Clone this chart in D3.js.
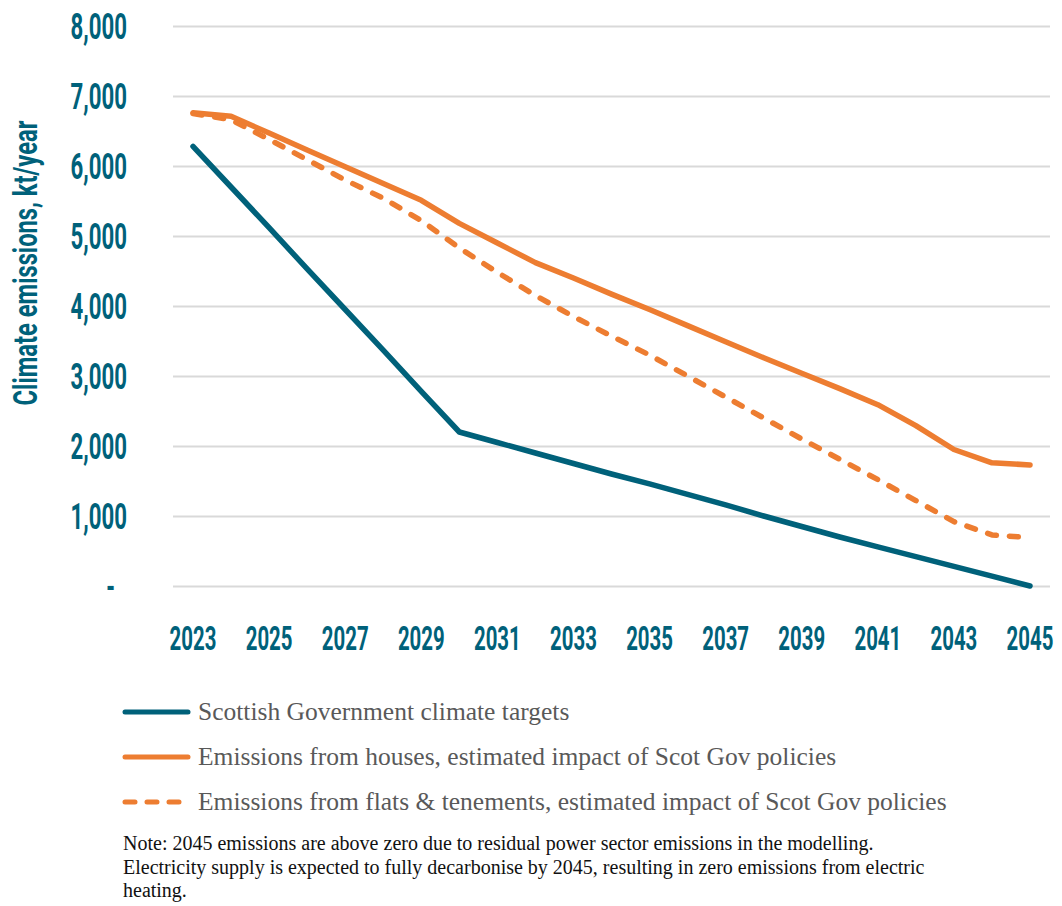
<!DOCTYPE html>
<html>
<head>
<meta charset="utf-8">
<script src="https://cdn.jsdelivr.net/npm/d3@7"></script>
<style>
  body { margin: 0; background: #fff; }
  .tick line { stroke: #d9d9d9; stroke-width: 2; }
  .domain { display: none; }
</style>
</head>
<body>
<svg id="chart" width="1062" height="906"></svg>
<script>
// years on the x axis
const years = d3.range(2023, 2046);
const xTickYears = [2023, 2025, 2027, 2029, 2031, 2033, 2035, 2037, 2039, 2041, 2043, 2045];
const yTicks = [0, 1000, 2000, 3000, 4000, 5000, 6000, 7000, 8000];

// kt/year
const targets = [6280, 5700, 5120, 4530, 3950, 3370, 2780, 2200, 2050, 1900, 1750, 1600,
  1460, 1310, 1160, 1000, 850, 700, 560, 420, 280, 140, 0];
const houses = [6760, 6710, 6470, 6230, 5990, 5750, 5510, 5180, 4900, 4620, 4400, 4170,
  3950, 3720, 3490, 3260, 3040, 2820, 2590, 2290, 1950, 1760, 1730];
const flats = [6750, 6660, 6380, 6090, 5800, 5540, 5220, 4830, 4480, 4150, 3850, 3570,
  3300, 3000, 2700, 2400, 2100, 1810, 1520, 1220, 920, 730, 690];

const legendLabels = [
  'Scottish Government climate targets',
  'Emissions from houses, estimated impact of Scot Gov policies',
  'Emissions from flats & tenements, estimated impact of Scot Gov policies'
];
const noteLines = [
  'Note: 2045 emissions are above zero due to residual power sector emissions in the modelling.',
  'Electricity supply is expected to fully decarbonise by 2045, resulting in zero emissions from electric',
  'heating.'
];

const teal = '#00617a';
const orange = '#ed7d31';
const condensed = 'Roboto, "DejaVu Sans", sans-serif';
const serif = '"Liberation Serif", "DejaVu Serif", serif';

const series = [
  {values: targets, color: teal, dash: null},
  {values: houses, color: orange, dash: null},
  {values: flats, color: orange, dash: '9,13'}
];

const svg = d3.select('#chart');
const gridL = 173, gridR = 1050;

const x = d3.scaleLinear().domain([2023, 2045]).range([193, 1030]);
const y = d3.scaleLinear().domain([0, 8000]).range([586, 26]);

// gridlines
svg.append('g')
  .attr('class', 'grid')
  .attr('transform', 'translate(' + gridL + ',0)')
  .call(d3.axisLeft(y).tickValues(yTicks).tickSize(-(gridR - gridL)).tickFormat(''));

// y tick labels (condensed bold)
svg.append('g')
  .selectAll('text')
  .data(yTicks).enter()
  .append('text')
  .attr('transform', d => 'translate(' + (d === 0 ? 115 : 127) + ',' + (y(d) + 13) + ') scale(0.6,1)')
  .attr('text-anchor', 'end')
  .style('font-family', condensed)
  .style('font-weight', 700)
  .style('font-size', '37px')
  .style('fill', teal)
  .text(d => d === 0 ? '-' : d3.format(',')(d));

// x tick labels
svg.append('g')
  .selectAll('text')
  .data(xTickYears).enter()
  .append('text')
  .attr('transform', d => 'translate(' + x(d) + ',650) scale(0.6,1)')
  .attr('text-anchor', 'middle')
  .style('font-family', condensed)
  .style('font-weight', 700)
  .style('font-size', '34px')
  .style('fill', teal)
  .text(d => d);

// y axis title
svg.append('text')
  .attr('transform', 'translate(37,263) rotate(-90) scale(0.72,1)')
  .attr('text-anchor', 'middle')
  .style('font-family', condensed)
  .style('font-weight', 700)
  .style('font-size', '33px')
  .style('fill', teal)
  .text('Climate emissions, kt/year');

// lines
const line = d3.line()
  .x((d, i) => x(years[i]))
  .y(d => y(d));

svg.append('g')
  .selectAll('path')
  .data(series).enter()
  .append('path')
  .attr('d', d => line(d.values))
  .style('fill', 'none')
  .style('stroke', d => d.color)
  .style('stroke-width', 5.5)
  .style('stroke-linecap', 'round')
  .style('stroke-linejoin', 'round')
  .style('stroke-dasharray', d => d.dash);

// legend
const gLegend = svg.append('g').attr('class', 'legend');
const legendItems = gLegend.selectAll('g')
  .data(series).enter()
  .append('g')
  .attr('transform', (d, i) => 'translate(0,' + (712 + i * 45) + ')');

legendItems.append('line')
  .attr('x1', 125).attr('x2', d => d.dash ? 184 : 188)
  .attr('y1', 0).attr('y2', 0)
  .style('stroke', d => d.color)
  .style('stroke-width', 5)
  .style('stroke-linecap', 'round')
  .style('stroke-dasharray', d => d.dash ? '10,12' : null);

legendItems.append('text')
  .attr('x', 198)
  .attr('y', 8)
  .style('font-family', serif)
  .style('font-size', '25.5px')
  .style('fill', '#595959')
  .text((d, i) => legendLabels[i]);

// note
svg.append('g')
  .selectAll('text')
  .data(noteLines).enter()
  .append('text')
  .attr('x', 123)
  .attr('y', (d, i) => 850 + i * 23.5)
  .style('font-family', serif)
  .style('font-size', '20px')
  .style('fill', '#111')
  .text(d => d);
</script>
</body>
</html>
